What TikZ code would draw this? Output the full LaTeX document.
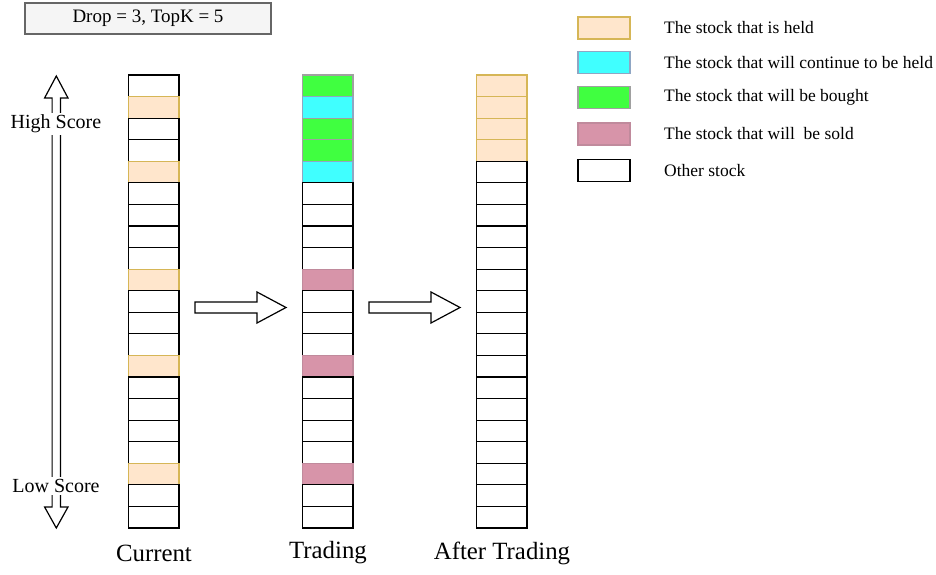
\documentclass[tikz,border=0pt]{standalone}
\usepackage{fontspec}
\setmainfont{Liberation Serif}
\definecolor{heldfill}{HTML}{FFE6CC}
\definecolor{helddraw}{HTML}{D6B656}
\definecolor{contfill}{HTML}{40FFFF}
\definecolor{contdraw}{HTML}{8FA6C4}
\definecolor{buyfill}{HTML}{40FF40}
\definecolor{buydraw}{HTML}{A0A0A0}
\definecolor{sellfill}{HTML}{D794A9}
\definecolor{selldraw}{HTML}{C08A9C}
\definecolor{boxfill}{HTML}{F5F5F5}
\definecolor{boxdraw}{HTML}{666666}
\tikzset{
  cellbase/.style={line width=1.2bp, minimum width=50.5bp, minimum height=21.57bp, inner sep=0pt, outer sep=0pt, anchor=north west},
  o/.style={cellbase, draw=black, fill=white},
  h/.style={cellbase, draw=helddraw, fill=heldfill},
  c/.style={cellbase, draw=contdraw, fill=contfill},
  b/.style={cellbase, draw=buydraw, fill=buyfill},
  s/.style={cellbase, draw=selldraw, fill=sellfill},
  swatch/.style={line width=1.2bp, minimum width=52bp, minimum height=22bp, inner sep=0pt, outer sep=0pt},
  legtext/.style={anchor=west, inner sep=0pt, font=\fontsize{17.5bp}{21bp}\selectfont},
  blockarrow/.style={draw=black, line width=1.2bp, fill=white, line join=miter},
  scorelabel/.style={fill=white, inner sep=2bp, font=\fontsize{20bp}{24bp}\selectfont},
  collabel/.style={inner sep=0pt, font=\fontsize{24.8bp}{30bp}\selectfont}
}
\begin{document}
\begin{tikzpicture}[x=1bp,y=-1bp]
\useasboundingbox (0,0) rectangle (936,575);
% top parameter box
\node[draw=boxdraw, fill=boxfill, line width=2bp, minimum width=246bp, minimum height=31bp, inner sep=0pt,
      font=\fontsize{19bp}{23bp}\selectfont] (param) at (148,18.5) {Drop = 3, TopK = 5};
% columns
\foreach \st [count=\i from 0] in {o,h,o,o,h,o,o,o,o,h,o,o,o,h,o,o,o,o,h,o,o}
  \node[\st] (cur-\i) at (128.5, {75+\i*21.57}) {};
\foreach \st [count=\i from 0] in {b,c,b,b,c,o,o,o,o,s,o,o,o,s,o,o,o,o,s,o,o}
  \node[\st] (trd-\i) at (302.5, {75+\i*21.57}) {};
\foreach \st [count=\i from 0] in {h,h,h,h,o,o,o,o,o,o,o,o,o,o,o,o,o,o,o,o,o}
  \node[\st] (aft-\i) at (476.5, {75+\i*21.57}) {};
% column labels
\node[collabel] (lcur) at (154,553) {Current};
\node[collabel] (ltrd) at (328,553) {Trading};
\node[collabel] (laft) at (502,553) {After Trading};
% score arrow
\coordinate (stop) at (56.3,76);
\coordinate (sbot) at (56.3,528);
\draw[blockarrow] (stop) -- ++(11.7,22) -- ++(-7.5,0) -- ++(0,409) -- ++(7.5,0) -- (sbot)
  -- ++(-11.7,-21) -- ++(7.5,0) -- ++(0,-409) -- ++(-7.5,0) -- cycle;
\node[scorelabel] (high) at (56,124) {High Score};
\node[scorelabel] (low) at (56,486) {Low Score};
% block arrows between columns
\coordinate (a1) at (195,307.5);
\coordinate (a2) at (369,307.5);
\foreach \a in {a1,a2}
  \draw[blockarrow] (\a) ++(0,-5.5) -- ++(62,0) -- ++(0,-10) -- ++(29,15.5) -- ++(-29,15.5) -- ++(0,-10) -- ++(-62,0) -- cycle;
% legend
\node[swatch, draw=helddraw, fill=heldfill] (k1) at (604,28) {};
\node[swatch, draw=contdraw, fill=contfill] (k2) at (604,62.5) {};
\node[swatch, draw=buydraw, fill=buyfill] (k3) at (604,97.5) {};
\node[swatch, draw=selldraw, fill=sellfill] (k4) at (604,134) {};
\node[swatch, draw=black, fill=white] (k5) at (604,170.5) {};
\node[legtext] (t1) at (664,28) {The stock that is held};
\node[legtext] (t2) at (664,62.5) {The stock that will continue to be held};
\node[legtext] (t3) at (664,97.5) {The stock that will be bought};
\node[legtext] (t4) at (664,134) {The stock that will\ \ be sold};
\node[legtext] (t5) at (664,170.5) {Other stock};
\end{tikzpicture}
\end{document}
